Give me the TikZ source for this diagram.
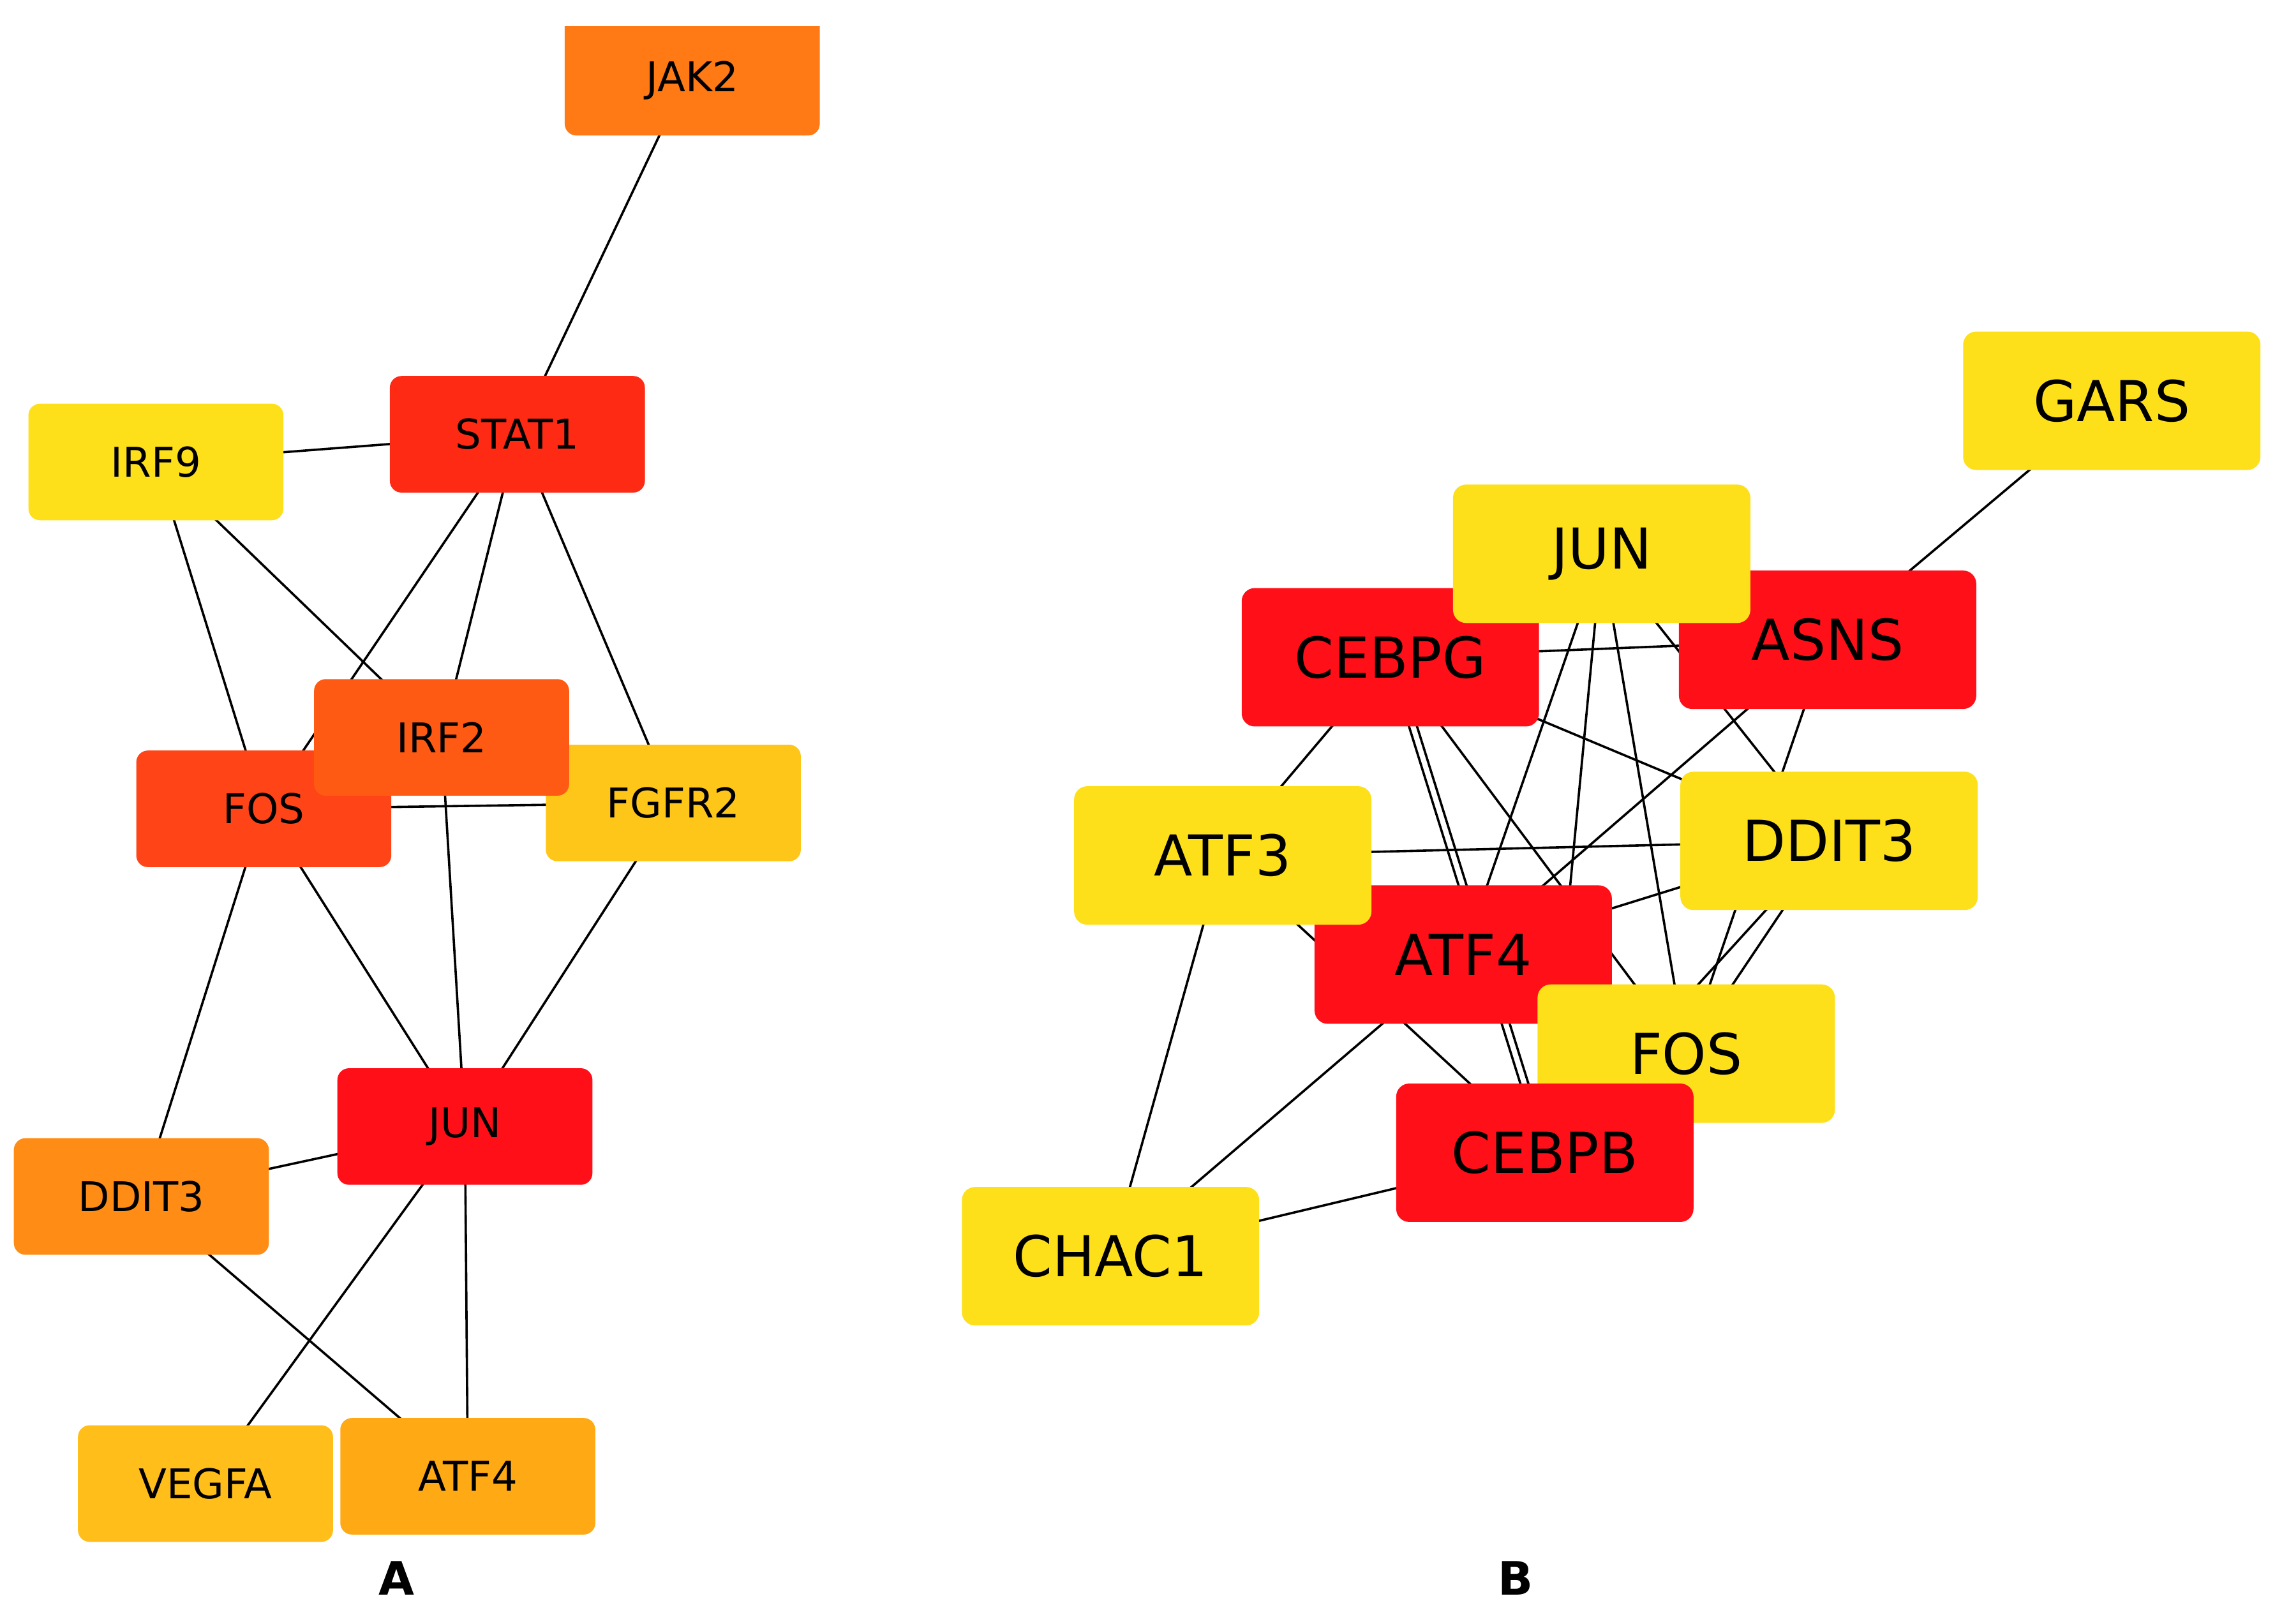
\documentclass[tikz,border=0pt]{standalone}
\usepackage{fontspec}
\setmainfont{DejaVu Sans}
\usetikzlibrary{backgrounds}
\definecolor{cJak}{HTML}{FF7A14}
\definecolor{cStat}{HTML}{FF2A14}
\definecolor{cYel}{HTML}{FDE01A}
\definecolor{cIrf}{HTML}{FF5A14}
\definecolor{cFos}{HTML}{FF4418}
\definecolor{cFgf}{HTML}{FFC61A}
\definecolor{cRed}{HTML}{FF1018}
\definecolor{cDdi}{HTML}{FF8C14}
\definecolor{cVeg}{HTML}{FFBE1A}
\definecolor{cAtf}{HTML}{FFAA14}
\tikzset{
 na/.style={rectangle,rounded corners=0.08cm,minimum width=1.75cm,minimum height=0.8cm,inner sep=0pt,font=\fontsize{8}{9}\selectfont},
 nb/.style={rectangle,rounded corners=0.09cm,minimum width=2.04cm,minimum height=0.95cm,inner sep=0pt,font=\fontsize{11}{12}\selectfont},
 ed/.style={draw=black,line width=0.45pt},
 lab/.style={font=\fontsize{9}{10}\selectfont\bfseries}
}
\begin{document}
\begin{tikzpicture}
\useasboundingbox (0,0) rectangle (15.61,-11.14);
% ---------- Panel A ----------
\begin{scope}
\clip (0,-0.18) rectangle (15.61,-11.14);
\node[na,fill=cJak,minimum height=0.95cm] (jak2) at (4.75,-0.455) {};
\end{scope}
\node[font=\fontsize{8}{9}\selectfont] (jak2t) at (4.75,-0.55) {JAK2};
\node[na,fill=cStat] (stat1) at (3.55,-2.98) {STAT1};
\node[na,fill=cYel] (irf9) at (1.07,-3.17) {IRF9};
\node[na,fill=cFos] (fosA) at (1.81,-5.55) {FOS};
\node[na,fill=cFgf] (fgfr2) at (4.62,-5.51) {FGFR2};
\node[na,fill=cIrf] (irf2) at (3.03,-5.06) {IRF2};
\node[na,fill=cRed] (junA) at (3.19,-7.73) {JUN};
\node[na,fill=cDdi] (ddit3A) at (0.97,-8.21) {DDIT3};
\node[na,fill=cVeg] (vegfa) at (1.41,-10.18) {VEGFA};
\node[na,fill=cAtf] (atf4A) at (3.21,-10.13) {ATF4};
\begin{scope}[on background layer]
\draw[ed] (jak2.center) -- (stat1.center);
\draw[ed] (irf9.center) -- (stat1.center);
\draw[ed] (irf9.center) -- (fosA.center);
\draw[ed] (irf9.center) -- (irf2.center);
\draw[ed] (stat1.center) -- (fosA.center);
\draw[ed] (stat1.center) -- (irf2.center);
\draw[ed] (stat1.center) -- (fgfr2.center);
\draw[ed] (fosA.center) -- (fgfr2.center);
\draw[ed] (fosA.center) -- (junA.center);
\draw[ed] (irf2.center) -- (junA.center);
\draw[ed] (fgfr2.center) -- (junA.center);
\draw[ed] (fosA.center) -- (ddit3A.center);
\draw[ed] (ddit3A.center) -- (junA.center);
\draw[ed] (ddit3A.center) -- (atf4A.center);
\draw[ed] (junA.center) -- (vegfa.center);
\draw[ed] (junA.center) -- (atf4A.center);
\end{scope}
% ---------- Panel B ----------
\node[nb,fill=cYel] (gars) at (14.49,-2.75) {GARS};
\node[nb,fill=cRed] (cebpg) at (9.54,-4.51) {CEBPG};
\node[nb,fill=cRed] (asns) at (12.54,-4.39) {ASNS};
\node[nb,fill=cYel] (junB) at (10.99,-3.80) {JUN};
\node[nb,fill=cRed] (atf4B) at (10.04,-6.55) {ATF4};
\node[nb,fill=cYel] (atf3) at (8.39,-5.87) {ATF3};
\node[nb,fill=cYel] (ddit3B) at (12.55,-5.77) {DDIT3};
\node[nb,fill=cYel] (fosB) at (11.57,-7.23) {FOS};
\node[nb,fill=cRed] (cebpb) at (10.60,-7.91) {CEBPB};
\node[nb,fill=cYel] (chac1) at (7.62,-8.62) {CHAC1};
\begin{scope}[on background layer]
\draw[ed] (gars.center) -- (asns.center);
\draw[ed] (cebpg.center) -- (asns.center);
\draw[ed] (cebpg.center) -- (atf3.center);
\draw[ed] ([xshift=-0.02cm]cebpg.center) -- ([xshift=-0.02cm]cebpb.center);
\draw[ed] ([xshift=0.035cm]cebpg.center) -- ([xshift=0.035cm]cebpb.center);
\draw[ed] (cebpg.center) -- (fosB.center);
\draw[ed] (cebpg.center) -- (ddit3B.center);
\draw[ed] (junB.center) -- (atf4B.center);
\draw[ed] (junB.center) -- (cebpb.center);
\draw[ed] (junB.center) -- (fosB.center);
\draw[ed] (junB.center) -- (ddit3B.center);
\draw[ed] (asns.center) -- (atf4B.center);
\draw[ed] (asns.center) -- (fosB.center);
\draw[ed] (atf3.center) -- (ddit3B.center);
\draw[ed] (atf3.center) -- (chac1.center);
\draw[ed] (atf3.center) -- (cebpb.center);
\draw[ed] (atf4B.center) -- (ddit3B.center);
\draw[ed] (atf4B.center) -- (chac1.center);
\draw[ed] (ddit3B.center) -- (fosB.center);
\draw[ed] (ddit3B.center) -- (cebpb.center);
\draw[ed] (cebpb.center) -- (chac1.center);
\end{scope}
% ---------- Panel labels ----------
\node[lab] (la) at (2.72,-10.83) {A};
\node[lab] (lb) at (10.40,-10.83) {B};
\end{tikzpicture}
\end{document}
